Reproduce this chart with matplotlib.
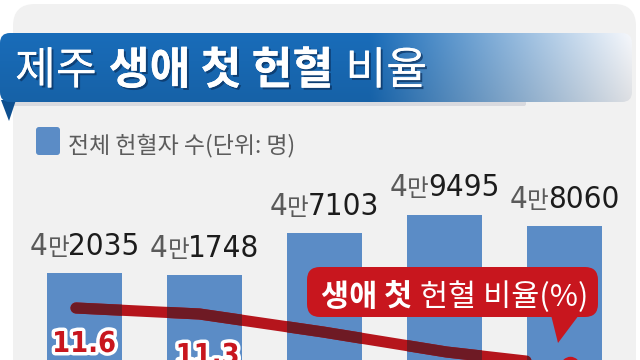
import numpy as np
import matplotlib
matplotlib.use("Agg")
import matplotlib.pyplot as plt
from matplotlib import font_manager as fm
from matplotlib.font_manager import FontProperties
from matplotlib.patches import FancyBboxPatch, Polygon
import matplotlib.patheffects as pe
from matplotlib.transforms import offset_copy

# ---------------- data ----------------
donors = [42035, 41748, 47103, 49495, 48060]          # 전체 헌혈자 수 (명)
first_ratio = [11.6, 11.3, 10.4, 9.4, 8.7]            # 생애 첫 헌혈 비율 (%)
title_parts = ["제주", "생애 첫 헌혈", "비율"]
legend_label = "전체 헌혈자 수(단위: 명)"
callout_parts = ["생애 첫", "헌혈 비율(%)"]

# ---------------- fonts ----------------
KR = "Noto Sans CJK KR"
plt.rcParams["font.family"] = [KR, "DejaVu Sans"]

W, H = 640, 360
fig = plt.figure(figsize=(6.4, 3.6), dpi=100)
fig.patch.set_facecolor("white")
renderer = fig.canvas.get_renderer()


def _w(f):
    w = f.weight
    if isinstance(w, str):
        w = fm.weight_dict.get(w, 400)
    return int(w)


def condensed_font(bold):
    best, best_score = None, -1
    for f in fm.fontManager.ttflist:
        nm, fn = f.name.lower(), f.fname.lower()
        if not any(k in nm or k in fn for k in ("narrow", "condensed")):
            continue
        if "serif" in nm or "mono" in nm or f.style != "normal":
            continue
        if bold != (_w(f) >= 600):
            continue
        score = 1
        if "liberation" in nm:
            score = 3
        elif "dejavu" in nm:
            score = 2
        if score > best_score:
            best, best_score = f.fname, score
    if best:
        return FontProperties(fname=best)
    return FontProperties(family="Liberation Sans", weight="bold" if bold else "normal")


def fitted(fp, sample, target_px):
    p = fp.copy()
    p.set_size(20)
    t = fig.text(0, 0, sample, fontproperties=p)
    w = t.get_window_extent(renderer).width
    t.remove()
    p.set_size(20 * target_px / w)
    return p


fp_num = fitted(condensed_font(False), "2035", 71)
fp_pct = fitted(condensed_font(True), "11.6", 64)

BAR = "#5b8cc6"
RED = "#c8161e"


def run(ax, base, x, y, pieces, align="left", dy=0):
    """Lay out text pieces one after another on a common baseline."""
    texts, widths = [], []
    for s, kw, gap in pieces:
        t = ax.text(x, y, s, ha="left", va="baseline", transform=base, **kw)
        texts.append(t)
        widths.append(t.get_window_extent(renderer).width + gap)
    total = sum(widths)
    cum = -total / 2 if align == "center" else 0
    for t, w in zip(texts, widths):
        t.set_transform(offset_copy(base, fig=fig, x=cum, y=dy, units="dots"))
        cum += w
    return texts


# ---------------- background / banner ----------------
bg = fig.add_axes([0, 0, 1, 1], zorder=0)
bg.axis("off")
bg.add_patch(FancyBboxPatch((13, 4), 623, 420, boxstyle="round,pad=0,rounding_size=22",
                            fc="#f1f1f1", ec="none"))
bg.add_patch(FancyBboxPatch((6, 101), 520, 5, boxstyle="round,pad=0,rounding_size=2",
                            fc="#c9ccd3", ec="none", alpha=0.6))
xs_px = np.linspace(0, 632, 400)
t = np.clip((xs_px - 370) / 262, 0, 1)
dark = np.array([24, 104, 178]) / 255
light = np.array([236, 238, 242]) / 255
row = dark[None, :] * (1 - t[:, None]) + light[None, :] * t[:, None]
vert = np.linspace(1.04, 0.94, 40)[:, None, None]
grad = np.clip(row[None, :, :] * vert, 0, 1)
clip = FancyBboxPatch((0, 33), 632, 69, boxstyle="round,pad=0,rounding_size=10",
                      transform=bg.transData)
im = bg.imshow(grad, extent=(0, 632, 102, 33), aspect="auto", zorder=2)
im.set_clip_path(clip)
bg.set_xlim(0, W)
bg.set_ylim(H, 0)
bg.add_patch(Polygon([(1, 100), (16, 100), (9, 121)], closed=True, fc="#0e4f8f", ec="none", zorder=1))

shadow = [pe.withSimplePatchShadow(offset=(1.5, -1.5), shadow_rgbFace="#0a2f5c", alpha=0.7), pe.Normal()]
tkw = dict(color="white", fontsize=32, family=[KR], path_effects=shadow, zorder=5)
run(bg, bg.transData, 15, 84, [
    (title_parts[0], dict(tkw, fontweight="regular"), 12),
    (title_parts[1], dict(tkw, fontweight="bold"), 12),
    (title_parts[2], dict(tkw, fontweight="regular"), 0),
])

# ---------------- bars ----------------
ax = fig.add_axes([24.5 / W, 0, 600 / W, 240 / H], zorder=1)
ax.patch.set_visible(False)
ax.axis("off")
xpos = np.arange(len(donors))
bars = ax.bar(xpos, donors, width=0.633, color=BAR, zorder=2)
ax.set_xlim(-0.5, 4.5)
ax.set_ylim(30871, 61591)

for i, v in enumerate(donors):
    man, rest = divmod(v, 10000)
    run(ax, ax.transData, i, v, [
        (str(man), dict(fontproperties=fp_num, color="#5a5a5a", clip_on=False), 0),
        ("만", dict(family=[KR], fontsize=17, color="#5a5a5a", clip_on=False), -1),
        (f"{rest:04d}", dict(fontproperties=fp_num, color="#1c1c1c", clip_on=False), 0),
    ], align="center", dy=18)

# ---------------- line ----------------
ax2 = fig.add_axes([24.5 / W, 0, 600 / W, 240 / H], zorder=2)
ax2.patch.set_visible(False)
ax2.axis("off")
ax2.set_xlim(-0.417, 4.441)
ax2.set_ylim(9.0, 21.0)
lx = np.arange(len(first_ratio))
ax2.plot(lx, first_ratio, color="#b5151c", lw=8, solid_capstyle="round",
         solid_joinstyle="round", zorder=3)
for b in bars:
    ln, = ax2.plot(lx, first_ratio, color="#6e1a24", lw=8, solid_capstyle="round",
                   solid_joinstyle="round", zorder=4)
    ln.set_clip_path(b)
ax2.plot(lx[-1], first_ratio[-1], "o", ms=14, color=RED, mec="none", zorder=5, clip_on=False)

# value labels of the ratio (own vertical scale, labels sit below the line)
ax3 = fig.add_axes([24.5 / W, 0, 600 / W, 240 / H], zorder=2.5)
ax3.patch.set_visible(False)
ax3.axis("off")
ax3.set_xlim(-0.417, 4.441)
ax3.set_ylim(10.85, 16.85)
lab_fx = [pe.withSimplePatchShadow(offset=(1, -2), shadow_rgbFace="#5a0a0e", alpha=0.6),
          pe.withStroke(linewidth=5, foreground="white")]
for i, v in enumerate(first_ratio):
    ax3.annotate(f"{v:.1f}", (i, v), xytext=(8, 0), textcoords="offset pixels",
                 ha="center", va="top", fontproperties=fp_pct,
                 color=RED, path_effects=lab_fx, zorder=6)

# ---------------- overlay: legend & callout ----------------
ov = fig.add_axes([0, 0, 1, 1], zorder=3)
ov.patch.set_visible(False)
ov.set_xlim(0, W)
ov.set_ylim(H, 0)
ov.axis("off")
ov.add_patch(FancyBboxPatch((36, 127), 24, 28, boxstyle="round,pad=0,rounding_size=3",
                            fc=BAR, ec="none"))
ov.text(68, 152, legend_label, ha="left", va="baseline", fontsize=16.5, color="#5c5c5c", family=[KR])

ov.add_patch(FancyBboxPatch((307, 267), 291, 50, boxstyle="round,pad=0,rounding_size=13",
                            fc=RED, ec="none"))
ov.add_patch(Polygon([(551, 315), (579, 315), (558, 343)], closed=True, fc=RED, ec="none"))
ckw = dict(color="white", fontsize=22, family=[KR])
run(ov, ov.transData, 455, 306, [
    (callout_parts[0], dict(ckw, fontweight="bold"), 8),
    (callout_parts[1], dict(ckw, fontweight="regular"), 0),
], align="center")

fig.savefig("out.png", dpi=100)
